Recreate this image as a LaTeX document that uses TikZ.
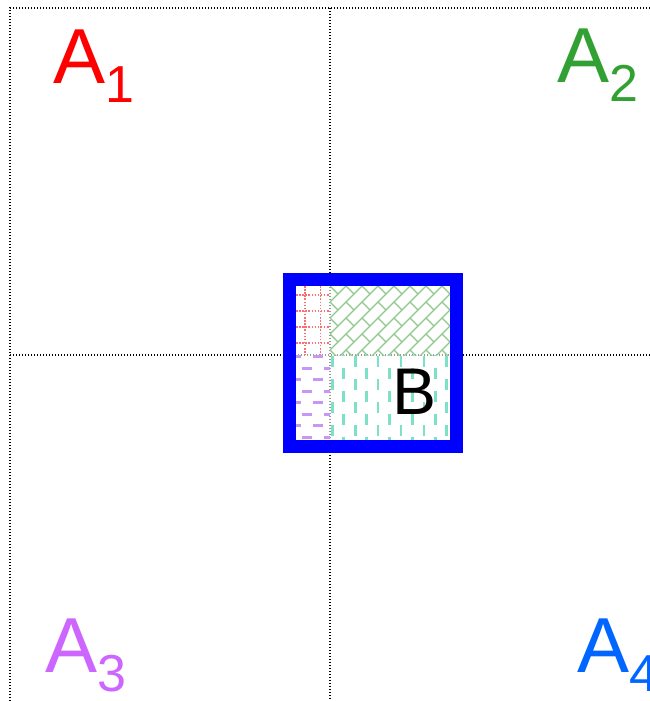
\documentclass[tikz,border=0pt]{standalone}
\usepackage{fontspec}
\setmainfont{Liberation Sans}
\usetikzlibrary{positioning}
\definecolor{setred}{RGB}{255,0,0}
\definecolor{setgreen}{RGB}{51,160,51}
\definecolor{setpurple}{RGB}{204,102,255}
\definecolor{setblue}{RGB}{0,102,255}
\definecolor{hatchred}{RGB}{255,110,110}
\definecolor{hatchgreen}{RGB}{140,200,135}
\definecolor{hatchpurple}{RGB}{200,150,245}
\definecolor{hatchcyan}{RGB}{125,225,200}
\newcommand{\setlabel}[2]{#1{\fontsize{52}{52}\selectfont\raisebox{-19pt}{#2}}}
\tikzset{
    gridline/.style={line width=1.3pt, dash pattern=on 1.3pt off 1.7pt, black},
    setname/.style={anchor=base west, inner sep=0pt, font=\fontsize{78}{78}\selectfont},
    hatch/.style={line width=2.7pt}
}

\begin{document}
\begin{tikzpicture}[x=1pt, y=-1pt]
    \useasboundingbox (0,0) rectangle (650,701);
    % Draw Grid
    \draw[gridline] (10,701) -- (10,8) -- (650,8);
    \draw[gridline] (330,8) -- (330,701);
    \draw[gridline] (10,355) -- (650,355);

    % Set Labels
    \node[setname, text=setred] (A1) at (53,83) {\setlabel{A}{1}};
    \node[setname, text=setgreen] (A2) at (557,82) {\setlabel{A}{2}};
    \node[setname, text=setpurple] (A3) at (45,672) {\setlabel{A}{3}};
    \node[setname, text=setblue] (A4) at (577,672) {\setlabel{A}{4}};

    % Square B: grid shows faintly inside
    \fill[white, opacity=0.6] (296,286) rectangle (450,440);

    % Top left: red grid
    \begin{scope}
        \clip (296,286) rectangle (330,355);
        \foreach \x in {289.5,305,320.5} {
            \draw[hatchred, line width=1.5pt, dash pattern=on 1.5pt off 1.6pt] (\x,286) -- (\x,355);
        }
        \foreach \y in {295,311,327,343} {
            \draw[hatchred, line width=1.5pt, dash pattern=on 1.5pt off 1.6pt] (296,\y) -- (330,\y);
        }
    \end{scope}

    % Top right: green brick hatch
    \begin{scope}
        \clip (330,286) rectangle (450,355);
        \foreach \c in {616,632,...,824} {
            \draw[hatchgreen, line width=1.1pt] (\c-370,370) -- (\c-270,270);
        }
        \foreach \d in {-36,-20,...,188} {
            \draw[hatchgreen, line width=1.1pt, dash pattern=on 11.3pt off 11.3pt] (\d+270,270) -- (\d+370,370);
        }
    \end{scope}

    % Bottom left: purple dashes
    \begin{scope}
        \clip (296,355) rectangle (330,440);
        \foreach \k in {0,...,7} {
            \pgfmathsetmacro{\xs}{269+mod(\k,2)*11}
            \draw[hatch, hatchpurple, dash pattern=on 10pt off 12pt] (\xs,356.7+11.5*\k) -- (345,356.7+11.5*\k);
        }
    \end{scope}

    % Bottom right: cyan dashes
    \begin{scope}
        \clip (330,355) rectangle (450,440);
        \foreach \k in {0,...,10} {
            \pgfmathsetmacro{\ys}{344.5+mod(\k+1,2)*11.5}
            \draw[hatch, hatchcyan, dash pattern=on 11pt off 12pt] (332.3+11.45*\k,\ys) -- (332.3+11.45*\k,450);
        }
    \end{scope}

    % Border of B
    \draw[blue, line width=13.3pt] (289.6,279.6) rectangle (456.4,446.4);
    \node[anchor=base west, inner sep=0pt, font=\fontsize{66}{66}\selectfont] (B) at (392,414) {B};
\end{tikzpicture}
\end{document}
